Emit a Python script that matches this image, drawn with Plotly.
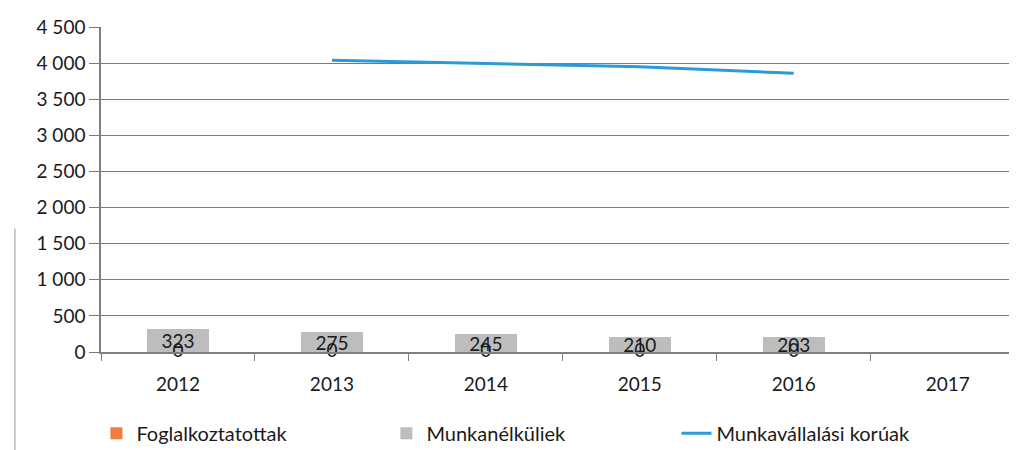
import plotly.graph_objects as go

years = ["2012", "2013", "2014", "2015", "2016", "2017"]
foglalkoztatottak = [0, 0, 0, 0, 0, None]
munkanelkuliek = [323, 275, 245, 210, 203, None]
munkavallalasi = [None, 4040, 4000, 3950, 3860, None]
y_ticks = [0, 500, 1000, 1500, 2000, 2500, 3000, 3500, 4000, 4500]

FONT = "Lato, Carlito, Calibri, 'Open Sans', sans-serif"
TXT = "#1a1a1a"

fig = go.Figure()
fig.add_trace(go.Bar(
    x=years, y=foglalkoztatottak, name="Foglalkoztatottak",
    marker=dict(color="#F07D3C", line=dict(width=0)),
))
fig.add_trace(go.Bar(
    x=years, y=munkanelkuliek, name="Munkanélküliek",
    marker=dict(color="#BDBDBD", line=dict(width=0)),
    text=[str(v) if v is not None else "" for v in munkanelkuliek],
    textposition="inside", insidetextanchor="middle",
    textfont=dict(size=19, color=TXT, family=FONT),
    constraintext="none",
))
fig.add_trace(go.Scatter(
    x=years, y=munkavallalasi, name="Munkavállalási korúak",
    mode="lines", line=dict(color="#2A9AD8", width=3),
))
# zero labels of the Foglalkoztatottak series
fig.add_trace(go.Scatter(
    x=years, y=foglalkoztatottak, mode="text",
    text=[str(v) if v is not None else "" for v in foglalkoztatottak],
    textposition="middle center",
    textfont=dict(size=19, color=TXT, family=FONT),
    showlegend=False, hoverinfo="skip", cliponaxis=False,
))

fig.update_layout(
    width=1009, height=442,
    margin=dict(l=93, r=0, t=19, b=98, autoexpand=False),
    barmode="stack", bargap=0.6,
    paper_bgcolor="white", plot_bgcolor="white",
    separators=", ",
    font=dict(family=FONT, size=18, color=TXT),
    legend=dict(
        orientation="h", x=-0.005, xanchor="left", y=-0.25, yanchor="middle",
        entrywidth=245, entrywidthmode="pixels",
        font=dict(size=20, color=TXT, family=FONT),
        traceorder="normal",
    ),
    xaxis=dict(
        type="category", range=[-0.5, 5.45],
        showline=True, linecolor="#7f7f7f", linewidth=1.5,
        ticks="outside", tickson="boundaries", ticklen=7, tickcolor="#7f7f7f",
        ticklabelstandoff=14, showgrid=False,
        tickfont=dict(size=19, color=TXT, family=FONT),
    ),
    yaxis=dict(
        range=[0, 4500], tickvals=y_ticks, tickformat=",d",
        showline=True, linecolor="#7f7f7f", linewidth=1.5,
        showgrid=True, gridcolor="#7a7a7a", gridwidth=1.3,
        ticks="outside", ticklen=10, tickcolor="#7a7a7a",
        zeroline=False,
        tickfont=dict(size=19, color=TXT, family=FONT),
    ),
    shapes=[dict(type="line", xref="paper", yref="paper",
                 x0=-0.094, x1=-0.094, y0=0.38, y1=-0.31,
                 line=dict(color="#9a9a9a", width=1))],
)

fig.write_html("out.html")
